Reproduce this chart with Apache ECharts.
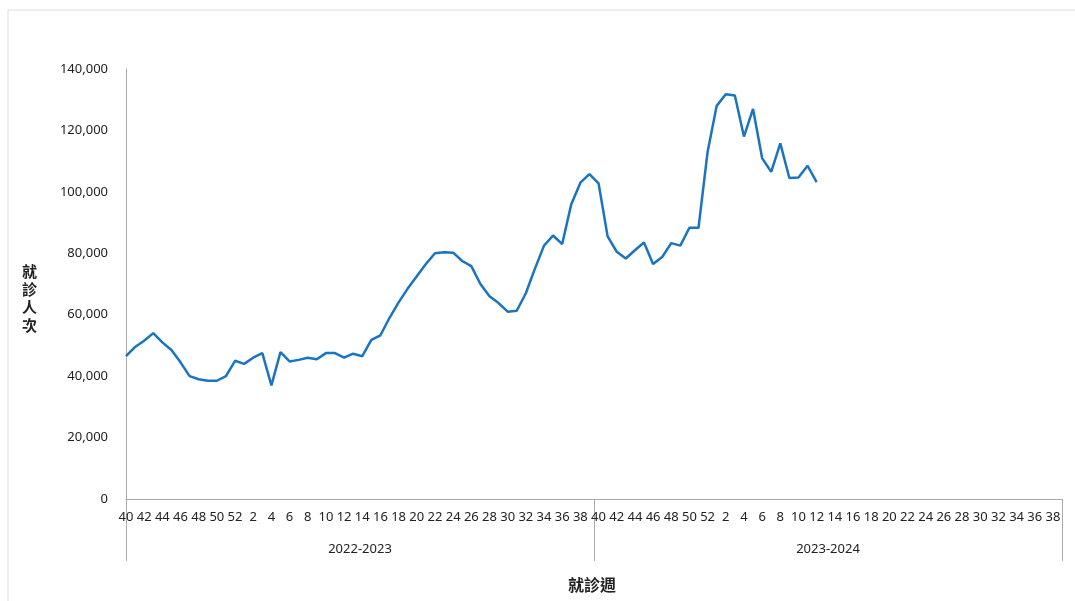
<!DOCTYPE html>
<html lang="zh-Hant">
  <head>
    <meta charset="utf-8" />
    <title>就診人次</title>
    <script src="https://cdn.jsdelivr.net/npm/echarts@6/dist/echarts.min.js"></script>
    <style>
      html, body { margin: 0; padding: 0; background: #fff; }
      #main { width: 1075px; height: 601px; }
    </style>
  </head>
  <body>
    <div id="main"></div>
    <script>
      var weekNums = [];
      for (var w = 40; w <= 52; w++) weekNums.push(w);
      for (var w = 1; w <= 39; w++) weekNums.push(w);
      var seasons = ["2022-2023", "2023-2024"];
      var weeks = weekNums.concat(weekNums);

      var season1 = [46500, 49500, 51500, 54000, 51000, 48500, 44500, 40000, 39000, 38500, 38500, 40000, 45000,
        44000, 46000, 47500, 37000, 47800, 44800, 45300, 46000, 45500, 47500, 47500, 46000, 47300, 46500,
        51800, 53300, 59000, 64000, 68500, 72500, 76500, 80000, 80300, 80200, 77500, 75800, 70000, 66000,
        63800, 61000, 61300, 67000, 75000, 82500, 85800, 83000, 96000, 103000, 105800];
      var season2 = [102800, 85500, 80500, 78300, 81000, 83500, 76500, 78800, 83300, 82500, 88300, 88300, 113000,
        128000, 131800, 131400, 118000, 127000, 111000, 106500, 115800, 104500, 104700, 108500, 103200];
      var values = season1.concat(season2);

      var chart = echarts.init(document.getElementById("main"));
      chart.setOption({
        animation: false,
        grid: { left: 126, right: 13, top: 69, bottom: 102 },
        graphic: [
          { type: "rect", shape: { x: 8, y: 10, width: 1075, height: 600 },
            style: { fill: "none", stroke: "#ddd", lineWidth: 1 } },
          { type: "text", left: 22, top: 262,
            style: { text: "就\n診\n人\n次", font: "bold 15px 'Noto Sans CJK TC'", lineHeight: 18, fill: "#222" } },
          { type: "text", left: 568, top: 577,
            style: { text: "就診週", font: "bold 16px 'Noto Sans CJK TC'", fill: "#222" } }
        ],
        xAxis: [
          {
            type: "category", data: weeks, boundaryGap: false,
            axisLine: { lineStyle: { color: "#aaa" } },
            axisTick: { show: false },
            axisLabel: { interval: 1, margin: 12, color: "#222", fontSize: 13, fontFamily: "Noto Sans" }
          },
          {
            type: "category", data: seasons, position: "bottom", boundaryGap: true,
            axisLine: { show: false },
            axisTick: { show: true, length: 62, lineStyle: { color: "#aaa" } },
            axisLabel: { margin: 44, color: "#222", fontSize: 13, fontFamily: "Noto Sans" }
          }
        ],
        yAxis: {
          type: "value", min: 0, max: 140000, interval: 20000,
          axisLine: { show: true, lineStyle: { color: "#aaa" } },
          axisTick: { show: false },
          splitLine: { show: false },
          axisLabel: { margin: 18, color: "#222", fontSize: 13, fontFamily: "Noto Sans",
            formatter: function (v) { return v.toLocaleString("en-US"); } }
        },
        series: [{
          type: "line", data: values, xAxisIndex: 0, showSymbol: false,
          lineStyle: { color: "#1a74c0", width: 2.5 }
        }]
      });
    </script>
  </body>
</html>
